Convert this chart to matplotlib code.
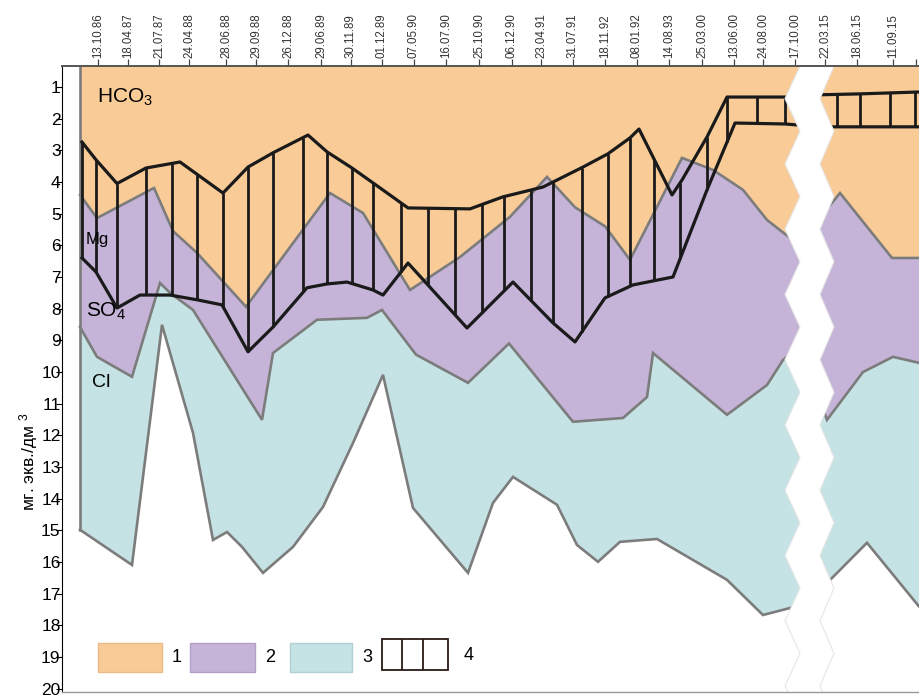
import numpy as np
import matplotlib.pyplot as plt
from matplotlib.patches import Rectangle, Polygon

plt.rcParams['font.family'] = ['Liberation Sans', 'DejaVu Sans']
plt.rcParams['mathtext.fontset'] = 'custom'
plt.rcParams['mathtext.rm'] = 'Liberation Sans'
plt.rcParams['mathtext.default'] = 'regular'

# -------------------------------
# data: sampling dates and their place on the time axis
# -------------------------------
dates = ['13.10.86', '18.04.87', '21.07.87', '24.04.88', '28.06.88', '29.09.88',
         '26.12.88', '29.06.89', '30.11.89', '01.12.89', '07.05.90', '16.07.90',
         '25.10.90', '06.12.90', '23.04.91', '31.07.91', '18.11.92', '08.01.92',
         '14.08.93', '25.03.00', '13.06.00', '24.08.00', '17.10.00', '22.03.15',
         '18.06.15', '11.09.15', '']
date_pos = [98, 128, 159, 189, 226, 256, 288, 321, 351, 382, 414, 446, 479, 512,
            541, 573, 605, 637, 669, 702, 734, 763, 795, 825, 857, 893, 916]

# lower edge of HCO3 field (1), mg-eq/dm3
hco3_x = [80, 97, 154, 173, 197, 246, 330, 363, 410, 460, 510, 547, 575, 605,
          630, 682, 713, 743, 767, 795, 823, 840, 892, 919]
hco3_y = [4.41, 5.14, 4.19, 5.55, 6.24, 7.94, 4.35, 4.98, 7.41, 6.37, 5.10, 3.84,
          4.80, 5.40, 6.46, 3.24, 3.62, 4.25, 5.20, 5.89, 5.00, 4.35, 6.40, 6.40]

# lower edge of SO4 field (2)
so4_x = [80, 97, 132, 160, 170, 193, 262, 273, 317, 367, 382, 416, 468, 509,
         573, 623, 647, 653, 727, 767, 783, 800, 827, 863, 893, 919]
so4_y = [8.58, 9.52, 10.15, 7.19, 7.50, 8.04, 11.51, 9.40, 8.35, 8.29, 8.04, 9.45,
         10.34, 9.10, 11.57, 11.45, 10.79, 9.40, 11.35, 10.41, 9.62, 9.20, 11.51,
         10.00, 9.52, 9.71]

# lower edge of Cl field (3)
cl_x = [80, 132, 162, 193, 213, 227, 242, 263, 293, 323, 353, 383, 413, 468, 493,
        513, 557, 577, 598, 620, 657, 727, 763, 802, 827, 867, 919]
cl_y = [14.98, 16.09, 8.51, 11.92, 15.30, 15.05, 15.52, 16.34, 15.52, 14.26, 12.24,
        10.09, 14.29, 16.34, 14.13, 13.31, 14.19, 15.46, 15.99, 15.36, 15.27, 16.56,
        17.67, 17.35, 16.66, 15.39, 17.40]

# Mg band (4): upper and lower lines
mg_top_x = [82, 96, 117, 146, 180, 223, 248, 273, 308, 327, 352, 373, 408, 470,
            503, 543, 583, 608, 630, 639, 672, 682, 707, 727, 785, 818, 860, 919]
mg_top_y = [2.74, 3.30, 4.05, 3.56, 3.37, 4.35, 3.53, 3.08, 2.52, 3.05, 3.56, 4.03,
            4.82, 4.85, 4.47, 4.16, 3.53, 3.11, 2.61, 2.33, 4.41, 3.94, 2.58, 1.32,
            1.32, 1.25, 1.22, 1.16]
mg_bot_x = [82, 96, 117, 140, 170, 197, 222, 248, 273, 307, 327, 347, 373, 383,
            408, 467, 513, 553, 575, 605, 633, 673, 707, 735, 785, 820, 919]
mg_bot_y = [6.40, 6.84, 7.98, 7.57, 7.57, 7.72, 7.88, 9.36, 8.58, 7.34, 7.22, 7.16,
            7.41, 7.57, 6.56, 8.61, 7.16, 8.45, 9.05, 7.66, 7.25, 7.00, 4.25, 2.14,
            2.17, 2.26, 2.26]
mg_rules = [82, 96, 117, 146, 172, 197, 223, 248, 273, 303, 327, 352, 373, 401,
            428, 455, 482, 504, 531, 553, 582, 608, 630, 654, 680, 707, 727, 757,
            785, 837, 860, 890, 915]

c_hco3 = '#F9CC97'
c_so4 = '#C5B4D8'
c_cl = '#C5E2E4'
c_edge = '#7C7C7C'
c_ink = '#1A1A1A'

y_top, y_bot = 0.34, 20.1

fig = plt.figure(figsize=(9.19, 6.96), dpi=100)
ax = fig.add_axes([62 / 919, 1 - 692 / 696, 1 - 62 / 919, (692 - 66) / 696])
ax.set_xlim(62, 919)
ax.set_ylim(y_bot, y_top)

# layered fields, bottom layer first
ax.fill_between(cl_x, y_top, cl_y, color=c_cl, lw=0, zorder=1)
ax.fill_between(so4_x, y_top, so4_y, color=c_so4, lw=0, zorder=2)
ax.fill_between(hco3_x, y_top, hco3_y, color=c_hco3, lw=0, zorder=3)
for xs, ys in [(cl_x, cl_y), (so4_x, so4_y), (hco3_x, hco3_y)]:
    ax.plot(xs, ys, color=c_edge, lw=1.9, zorder=4, solid_joinstyle='miter')
ax.plot([cl_x[0], cl_x[0]], [y_top, cl_y[0]], color=c_edge, lw=1.9, zorder=4)

# Mg band with vertical rules
ax.plot(mg_top_x, mg_top_y, color=c_ink, lw=2.3, zorder=5)
ax.plot(mg_bot_x, mg_bot_y, color=c_ink, lw=2.3, zorder=5)
r_top = np.interp(mg_rules, mg_top_x, mg_top_y)
r_bot = np.interp(mg_rules, mg_bot_x, mg_bot_y)
ax.vlines(mg_rules, r_top, r_bot, color=c_ink, lw=2.0, zorder=5)

# break in the time axis (2000 -> 2015)
zy = np.arange(y_top, y_bot + 1.1, 1.03)
zl = [800 if i % 2 == 0 else 785 for i in range(len(zy))]
zr = [834 if i % 2 == 0 else 820 for i in range(len(zy))]
brk = list(zip(zl, zy)) + list(zip(zr, zy))[::-1]
ax.add_patch(Polygon(brk, closed=True, facecolor='white', edgecolor='#E6E6E6',
                     lw=0.8, zorder=6))

# field names
ax.text(97, 1.32, 'HCO$_3$', fontsize=15, va='center', ha='left', zorder=7)
ax.text(86, 5.83, 'Mg', fontsize=12, va='center', ha='left', zorder=7)
ax.text(86, 8.10, 'SO$_4$', fontsize=15, va='center', ha='left', zorder=7)
ax.text(92, 10.34, 'Cl', fontsize=14, va='center', ha='left', zorder=7)

# legend
leg_y0, leg_y1 = 18.55, 19.47
for x0, x1, col, ec, lab, lx in [(98, 162, c_hco3, '#E9BB88', '1', 172),
                                   (190, 255, c_so4, '#B2A0C6', '2', 265),
                                   (290, 352, c_cl, '#B0D0D2', '3', 362)]:
    ax.add_patch(Rectangle((x0, leg_y0), x1 - x0, leg_y1 - leg_y0, facecolor=col,
                           edgecolor=ec, lw=1, zorder=7))
    ax.text(lx, (leg_y0 + leg_y1) / 2, lab, fontsize=13, va='center', zorder=7)
ax.add_patch(Rectangle((382, 18.42), 66, 1.0, facecolor='white',
                       edgecolor='#2A1A14', lw=1.3, zorder=7))
ax.vlines([402, 423], 18.42, 19.42, color='#2A1A14', lw=1.3, zorder=7)
ax.text(464, 18.95, '4', fontsize=13, va='center', zorder=7)

# axes
ax.xaxis.tick_top()
ax.set_xticks(date_pos)
ax.set_xticklabels(dates, rotation=90, fontsize=8.3, color='#333333')
ax.tick_params(axis='x', direction='out', length=5, width=0.9, color='#444444', pad=1)
ax.set_yticks(range(1, 21))
ax.set_yticklabels([str(i) for i in range(1, 21)], fontsize=12.5)
ax.tick_params(axis='y', direction='out', length=4, width=0.8, pad=-3)
ax.spines['right'].set_visible(False)
ax.spines['top'].set_color('#555555')
ax.spines['top'].set_linewidth(1.4)
ax.spines['left'].set_linewidth(0.8)
ax.spines['bottom'].set_color('#999999')
ax.spines['bottom'].set_linewidth(1.0)
for s in ax.spines.values():
    s.set_zorder(8)

fig.text(29 / 919, 1 - 462 / 696, 'мг. экв./дм $^3$', rotation=90, fontsize=12.5,
         ha='center', va='center')

fig.savefig('out.png', dpi=100)
